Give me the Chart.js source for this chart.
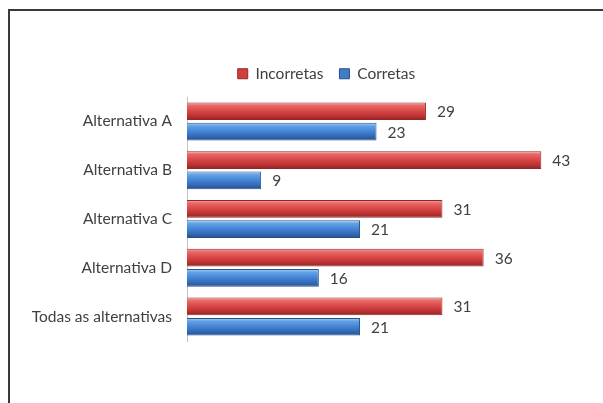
<!DOCTYPE html>
<html>
<head>
<meta charset="utf-8">
<script src="https://cdn.jsdelivr.net/npm/chart.js@4/dist/chart.umd.min.js"></script>
<style>
  html, body { margin: 0; padding: 0; background: #fff; overflow: hidden; }
  #wrap { position: relative; width: 603px; height: 403px; }
  #frame {
    position: absolute; left: 8px; top: 9px; right: -10px; bottom: -10px;
    border-top: 2px solid #3a3a3a; border-left: 2px solid #3a3a3a;
  }
  canvas { position: absolute; left: 0; top: 0; }
</style>
</head>
<body>
<div id="wrap">
  <div id="frame"></div>
  <canvas id="chart" width="603" height="403"></canvas>
</div>
<script>
const categories = ['Alternativa A', 'Alternativa B', 'Alternativa C', 'Alternativa D', 'Todas as alternativas'];
const incorretas = [29, 43, 31, 36, 31];
const corretas = [23, 9, 21, 16, 21];

const FONT = 'Lato, "Open Sans", sans-serif';
const SIZE = 15.5;
const TEXT = '#404040';

// glossy stops for each series, top edge to bottom edge
const shades = {
  red: [[0, '#f4aaaa'], [0.18, '#e86868'], [0.5, '#d84545'], [0.82, '#b52f2f'], [1, '#8c2323']],
  blue: [[0, '#b0d2f6'], [0.18, '#62a2e8'], [0.5, '#4483d3'], [0.82, '#2f64ae'], [1, '#244e88']]
};

const glossBars = {
  id: 'glossBars',
  afterLayout(chart) {
    // nudge the legend a little right of the canvas centre
    if (chart.legend) {
      chart.legend.left += 14;
      chart.legend.right += 14;
    }
  },
  beforeDatasetsDraw(chart) {
    const ctx = chart.ctx;
    chart.data.datasets.forEach((ds, i) => {
      const meta = chart.getDatasetMeta(i);
      meta.data.forEach(el => {
        const { y, height } = el.getProps(['y', 'height'], true);
        const top = y - height / 2;
        const g = ctx.createLinearGradient(0, top, 0, top + height);
        shades[ds.shade].forEach(s => g.addColorStop(s[0], s[1]));
        el.options = Object.assign({}, el.options, { backgroundColor: g });
      });
    });
  },
  afterDatasetsDraw(chart) {
    const ctx = chart.ctx;
    ctx.save();
    ctx.font = SIZE + 'px ' + FONT;
    ctx.fillStyle = TEXT;
    ctx.textBaseline = 'middle';
    ctx.textAlign = 'left';
    chart.data.datasets.forEach((ds, i) => {
      chart.getDatasetMeta(i).data.forEach((el, j) => {
        ctx.fillText(String(ds.data[j]), el.x + 11, el.y + 1);
      });
    });
    ctx.restore();
  }
};

new Chart(document.getElementById('chart'), {
  type: 'bar',
  data: {
    labels: categories,
    datasets: [
      {
        label: 'Incorretas',
        data: incorretas,
        shade: 'red',
        backgroundColor: '#cf3f3f',
        borderColor: '#962626',
        borderWidth: 1,
        borderSkipped: 'start'
      },
      {
        label: 'Corretas',
        data: corretas,
        shade: 'blue',
        backgroundColor: '#3f7cc9',
        borderColor: '#26508c',
        borderWidth: 1,
        borderSkipped: 'start'
      }
    ]
  },
  options: {
    indexAxis: 'y',
    responsive: false,
    animation: false,
    devicePixelRatio: 1,
    categoryPercentage: 0.833,
    barPercentage: 0.87,
    layout: { padding: { top: 50, bottom: 62, left: 26, right: 4 } },
    scales: {
      x: {
        position: 'top',
        min: 0,
        max: 50,
        ticks: { display: false },
        grid: { display: false },
        border: { display: false },
        afterFit: s => { s.height = 5.5; }
      },
      y: {
        grid: { display: false, drawTicks: false },
        border: { display: true, color: '#c4c4c4', width: 1 },
        ticks: { color: TEXT, padding: 15, font: { family: FONT, size: SIZE } },
        afterFit: s => { s.width = 161; }
      }
    },
    plugins: {
      legend: {
        position: 'top',
        labels: {
          boxWidth: 10,
          boxHeight: 10,
          padding: 16,
          color: TEXT,
          font: { family: FONT, size: SIZE }
        }
      },
      tooltip: { enabled: false }
    }
  },
  plugins: [glossBars]
});
</script>
</body>
</html>
